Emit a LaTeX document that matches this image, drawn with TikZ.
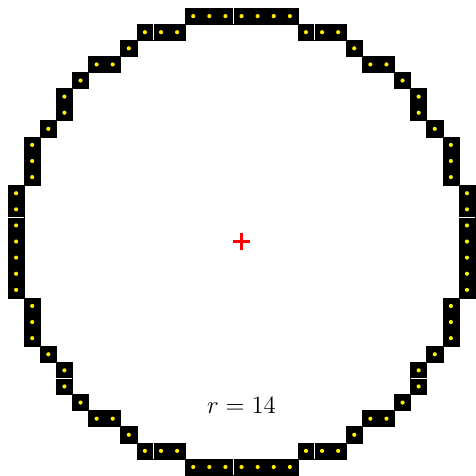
\documentclass[tikz,border=0pt]{standalone}
\usepackage{tikz}
\usetikzlibrary{positioning}
\definecolor{markred}{RGB}{255,0,0}
\tikzset{
  cell/.style={fill=black,draw=black,line width=.3pt},
  pip/.style={fill=yellow},
  seam/.style={draw=white,line width=.5pt},
  centremark/.style={draw=markred,line width=1.4pt},
  rlabel/.style={font=\large,scale=1.1,inner sep=0pt},
}
\begin{document}
\begin{tikzpicture}[x=3mm,y=3mm]
  \useasboundingbox (-15,-14.56) rectangle (14.5,15);
  % ---- first octant, mirrored eight ways ----
  \foreach \a/\b in {0/14,1/14,2/14,3/14,4/13,5/13,6/13,7/12,8/11,9/11,10/10} {
    \foreach \sx in {1,-1} {
      \foreach \sy in {1,-1} {
        \fill[cell] (\sx*\a-.5,\sy*\b-.5) rectangle ++(1,1);
        \fill[pip] (\sx*\a,\sy*\b) circle (1.1pt);
        \fill[cell] (\sx*\b-.5,\sy*\a-.5) rectangle ++(1,1);
        \fill[pip] (\sx*\b,\sy*\a) circle (1.1pt);
      }
    }
  }
  % ---- seams between neighbouring cells ----
  \foreach \s/\r in {-0.5/14,-5.5/13,4.5/13} {
    \draw[seam] (\s,\r-.5) -- (\s,\r+.5);
    \draw[seam] (\s,-\r-.5) -- (\s,-\r+.5);
  }
  \foreach \s/\c in {1.5/14,-8.5/11} {
    \draw[seam] (\c-.5,\s) -- (\c+.5,\s);
    \draw[seam] (-\c-.5,\s) -- (-\c+.5,\s);
  }
  % ---- centre and radius ----
  \coordinate (mid) at (0,0);
  \draw[centremark] (-.55,0) -- (.55,0);
  \draw[centremark] (0,-.55) -- (0,.55);
  \node[rlabel] (radius) at (0,-10.2) {$r = 14$};
\end{tikzpicture}
\end{document}
